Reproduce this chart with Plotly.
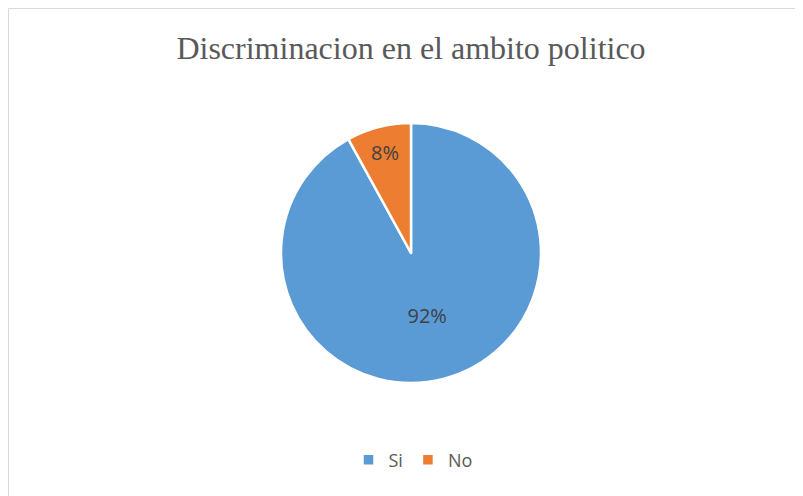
import plotly.graph_objects as go

labels = ["Si", "No"]
values = [92, 8]
colors = ["#5B9BD5", "#ED7D31"]
title_text = "Discriminacion en el ambito politico"

W, H = 803, 496
OFF = 8  # page body margin offset

def px(x):
    return (x - OFF) / W

def py(y):
    return 1 - (y - OFF) / H

fig = go.Figure(go.Pie(
    labels=labels, values=values, sort=False, direction="clockwise", rotation=0,
    marker=dict(colors=colors, line=dict(color="white", width=2.5)),
    textinfo="percent", texttemplate="%{percent:.0%}",
    textposition="inside", insidetextorientation="horizontal",
    textfont=dict(family="Open Sans", size=20, color="#404040"),
    domain=dict(x=[px(281), px(541)], y=[py(383), py(123)]),
))
fig.update_layout(
    width=W, height=H, margin=dict(l=0, r=0, t=0, b=0),
    paper_bgcolor="white", plot_bgcolor="white",
    title=dict(text=title_text, x=px(411), xanchor="center", y=py(48), yanchor="middle",
               font=dict(family="Liberation Serif", size=32, color="#595959")),
    legend=dict(orientation="h", x=px(413), xanchor="center", y=py(460), yanchor="middle",
                font=dict(family="Open Sans", size=18, color="#595959"), itemwidth=30),
    shapes=[dict(type="rect", xref="paper", yref="paper", x0=px(8.5), x1=1.05, y0=-0.05, y1=py(8.5),
                 line=dict(color="#D9D9D9", width=1), fillcolor="rgba(0,0,0,0)")],
)
fig.write_html("out.html")
